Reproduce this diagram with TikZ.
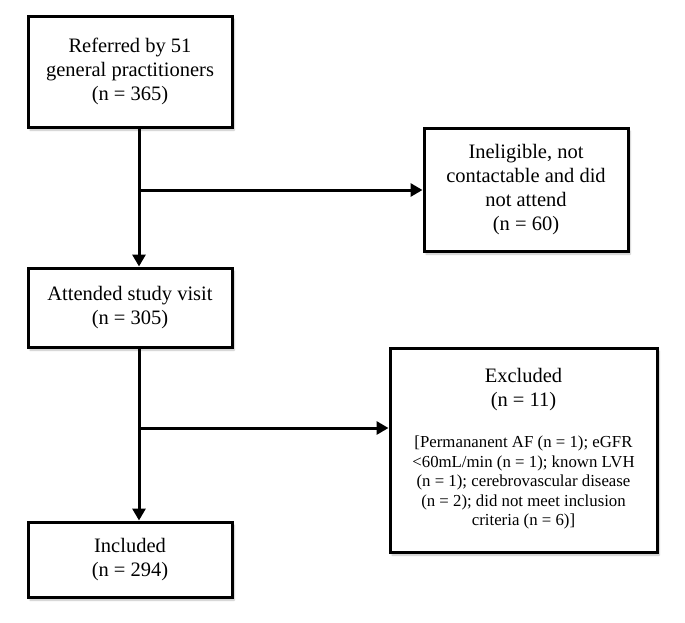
\documentclass[tikz,border=0pt]{standalone}
\usepackage{fontspec}
\setmainfont{Liberation Serif}
\usetikzlibrary{arrows.meta,shadows.blur}
\tikzset{
  box/.style={draw=black, line width=3pt, fill=white, align=center, inner sep=2pt,
    font=\fontsize{20.5pt}{24pt}\selectfont,
    blur shadow={shadow xshift=2pt, shadow yshift=-3pt, shadow blur steps=6, shadow opacity=25}},
  arr/.style={line width=3pt, -{Triangle[width=13pt,length=12pt]}}
}
\begin{document}
\begin{tikzpicture}[x=1pt,y=1pt]
\useasboundingbox (0,0) rectangle (685,-622);
\node[box, minimum width=204pt, minimum height=111pt] (ref) at (130,-71.5)
  {Referred by 51\\general practitioners\\(n = 365)};
\node[box, minimum width=204pt, minimum height=123pt] (inel) at (526,-189.5)
  {Ineligible, not\\contactable and did\\not attend\\(n = 60)};
\node[box, minimum width=204pt, minimum height=79pt] (att) at (130,-307.5)
  {Attended study visit\\(n = 305)};
\node[box, minimum width=204pt, minimum height=75pt] (inc) at (130,-559.5)
  {Included\\(n = 294)};
\node[box, minimum width=267pt, minimum height=204pt] (exc) at (523.5,-450)
  {Excluded\\(n = 11)\\[22pt]{\fontsize{16.8pt}{19.5pt}\selectfont\begin{tabular}{@{}c@{}}
   [Permananent AF (n = 1); eGFR\\
   <60mL/min (n = 1); known LVH\\
   (n = 1); cerebrovascular disease\\
   (n = 2); did not meet inclusion\\
   criteria (n = 6)]\end{tabular}}};
\coordinate (b1) at (139,-190);
\coordinate (b2) at (139,-428);
\draw[arr] (ref.south -| b1) -- (att.north -| b1);
\draw[arr] (b1) -- (b1 -| inel.west);
\draw[arr] (att.south -| b2) -- (inc.north -| b2);
\draw[arr] (b2) -- (b2 -| exc.west);
\end{tikzpicture}
\end{document}
